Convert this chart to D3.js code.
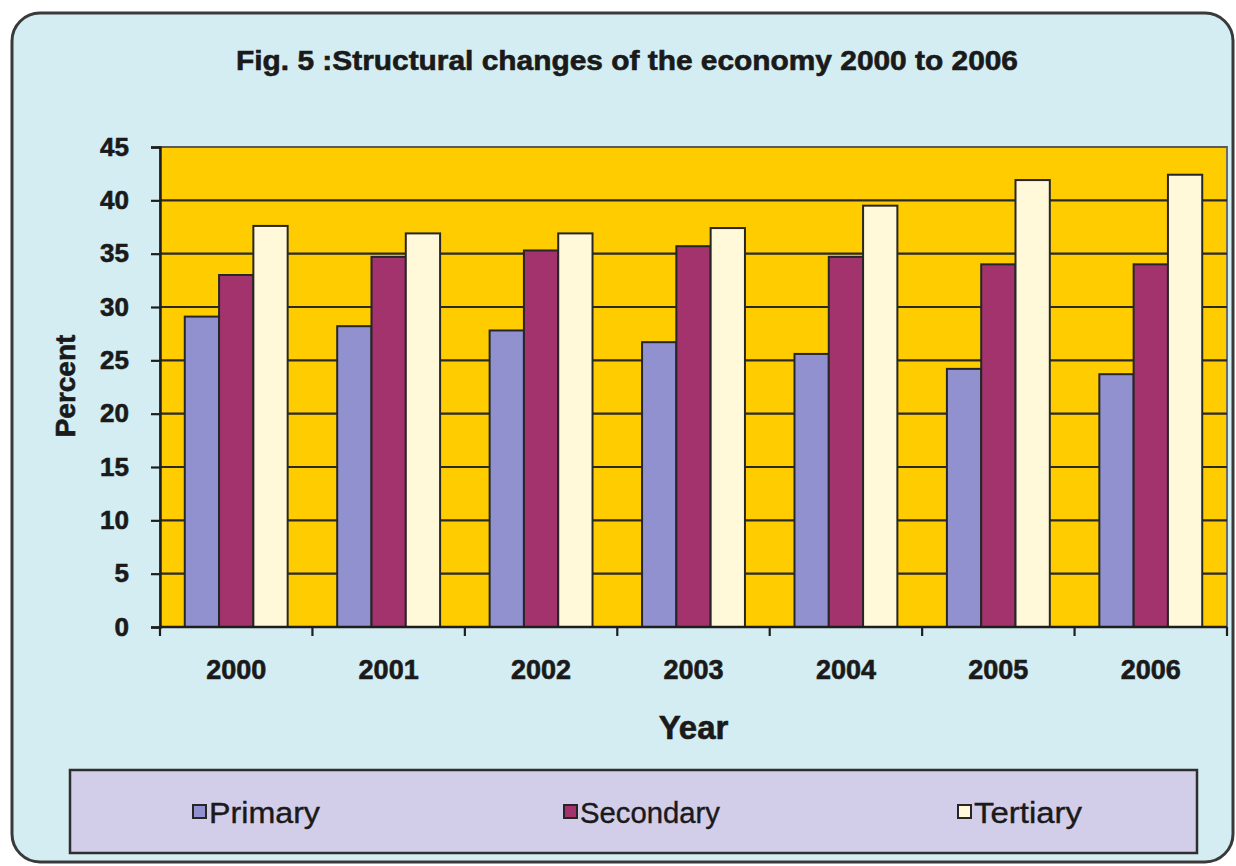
<!DOCTYPE html>
<html>
<head>
<meta charset="utf-8">
<script src="https://cdn.jsdelivr.net/npm/d3@7/dist/d3.min.js"></script>
<style>
  html, body { margin: 0; padding: 0; background: #ffffff; }
  svg { display: block; }
  text { font-family: "Liberation Sans", Arial, sans-serif; fill: #1a1a1a; }
  text.heavy { stroke: #1a1a1a; stroke-width: 0.6px; }
</style>
</head>
<body>
<svg id="chart" width="1236" height="866"></svg>
<script>
// Share of GDP by sector, percent
const years = ["2000", "2001", "2002", "2003", "2004", "2005", "2006"];
const seriesNames = ["Primary", "Secondary", "Tertiary"];
const primary   = [29.1, 28.2, 27.8, 26.7, 25.6, 24.2, 23.7];
const secondary = [33.0, 34.7, 35.3, 35.7, 34.7, 34.0, 34.0];
const tertiary  = [37.6, 36.9, 36.9, 37.4, 39.5, 41.9, 42.4];
const yTicks = [0, 5, 10, 15, 20, 25, 30, 35, 40, 45];
const seriesColors = ["#9191cf", "#a3336c", "#fff9da"];

const seriesValues = [primary, secondary, tertiary];
const rows = years.map((yr, i) => ({
  year: yr,
  values: seriesNames.map((s, k) => ({ series: s, value: seriesValues[k][i], color: seriesColors[k] }))
}));

const svg = d3.select("#chart");

// Outer panel
svg.append("rect")
  .attr("x", 12).attr("y", 13).attr("width", 1221).attr("height", 849)
  .attr("rx", 28).attr("ry", 28)
  .attr("fill", "#d4edf2").attr("stroke", "#3a3a3a").attr("stroke-width", 3);

// Title
svg.append("text")
  .attr("class", "heavy")
  .attr("x", 627).attr("y", 70)
  .attr("text-anchor", "middle")
  .attr("font-size", 27).attr("font-weight", "bold")
  .attr("textLength", 782).attr("lengthAdjust", "spacingAndGlyphs")
  .text("Fig. 5 :Structural changes of the economy 2000 to 2006");

const plot = { left: 160, right: 1227, top: 147, bottom: 627 };

const x = d3.scaleBand().domain(years).range([plot.left, plot.right]).padding(0);
const groupW = x.bandwidth() * 0.675;
const xs = d3.scaleBand().domain(seriesNames)
  .range([(x.bandwidth() - groupW) / 2, (x.bandwidth() + groupW) / 2]).padding(0);
const y = d3.scaleLinear().domain([0, 45]).range([plot.bottom, plot.top]);

// Plot area background
svg.append("rect")
  .attr("x", plot.left).attr("y", plot.top)
  .attr("width", plot.right - plot.left).attr("height", plot.bottom - plot.top)
  .attr("fill", "#ffcc00").attr("stroke", "#6b6b6b").attr("stroke-width", 2);

// Horizontal gridlines
svg.append("g")
  .selectAll("line")
  .data(yTicks.filter(t => t > 0))
  .join("line")
  .attr("x1", plot.left).attr("x2", plot.right)
  .attr("y1", d => y(d)).attr("y2", d => y(d))
  .attr("stroke", d => d === 45 ? "#5a5a5a" : "#2a2a2a")
  .attr("stroke-width", 2.2);

// Bars
const groups = svg.append("g")
  .selectAll("g")
  .data(rows)
  .join("g")
  .attr("transform", d => `translate(${x(d.year)},0)`);

groups.selectAll("rect")
  .data(d => d.values)
  .join("rect")
  .attr("x", d => xs(d.series))
  .attr("y", d => y(d.value))
  .attr("width", xs.bandwidth())
  .attr("height", d => y(0) - y(d.value))
  .attr("fill", d => d.color)
  .attr("stroke", "#262626")
  .attr("stroke-width", 2);

// Y axis
const yAxis = svg.append("g")
  .attr("transform", `translate(${plot.left},0)`)
  .call(d3.axisLeft(y).tickValues(yTicks).tickSize(9).tickPadding(22));
yAxis.select(".domain").attr("stroke", "#1e1e1e").attr("stroke-width", 2.5);
yAxis.selectAll(".tick line").attr("stroke", "#1e1e1e").attr("stroke-width", 2.2);
yAxis.selectAll(".tick text")
  .attr("class", "heavy")
  .attr("font-size", 26).attr("font-weight", "bold")
  .attr("font-family", "'Liberation Sans', Arial, sans-serif")
  .attr("fill", "#1a1a1a");

// X axis with ticks at category boundaries
const xAxisG = svg.append("g").attr("transform", `translate(0,${plot.bottom})`);
xAxisG.append("line")
  .attr("x1", plot.left).attr("x2", plot.right)
  .attr("y1", 0).attr("y2", 0)
  .attr("stroke", "#1e1e1e").attr("stroke-width", 2.5);
const boundaries = years.map(yr => x(yr)).concat([plot.right]);
xAxisG.selectAll("line.tk")
  .data(boundaries)
  .join("line")
  .attr("class", "tk")
  .attr("x1", d => d).attr("x2", d => d)
  .attr("y1", 0).attr("y2", 9)
  .attr("stroke", "#1e1e1e").attr("stroke-width", 2.2);
xAxisG.selectAll("text")
  .data(years)
  .join("text")
  .attr("class", "heavy")
  .attr("x", d => x(d) + x.bandwidth() / 2)
  .attr("y", 52)
  .attr("text-anchor", "middle")
  .attr("font-size", 27).attr("font-weight", "bold")
  .text(d => d);

// Axis titles
svg.append("text")
  .attr("class", "heavy")
  .attr("transform", `translate(75,386) rotate(-90)`)
  .attr("text-anchor", "middle")
  .attr("font-size", 28).attr("font-weight", "bold")
  .text("Percent");

svg.append("text")
  .attr("class", "heavy")
  .attr("x", (plot.left + plot.right) / 2).attr("y", 739)
  .attr("text-anchor", "middle")
  .attr("font-size", 33).attr("font-weight", "bold")
  .text("Year");

// Legend
const legend = svg.append("g");
legend.append("rect")
  .attr("x", 70).attr("y", 770).attr("width", 1127).attr("height", 83)
  .attr("fill", "#d2cde8").attr("stroke", "#2e2e2e").attr("stroke-width", 2.5);

const legendX = [193, 564, 958];
const legendTextW = [111, 140, 108];
const items = legend.selectAll("g.item")
  .data(seriesNames)
  .join("g")
  .attr("class", "item")
  .attr("transform", (d, i) => `translate(${legendX[i]},812)`);
items.append("rect")
  .attr("x", 0).attr("y", -7).attr("width", 13).attr("height", 13)
  .attr("fill", (d, i) => seriesColors[i])
  .attr("stroke", "#262626").attr("stroke-width", 2);
items.append("text")
  .attr("x", 16).attr("y", 11)
  .attr("font-size", 30)
  .attr("stroke", "#1a1a1a").attr("stroke-width", 0.4)
  .attr("textLength", (d, i) => legendTextW[i])
  .attr("lengthAdjust", "spacingAndGlyphs")
  .text(d => d);
</script>
</body>
</html>
